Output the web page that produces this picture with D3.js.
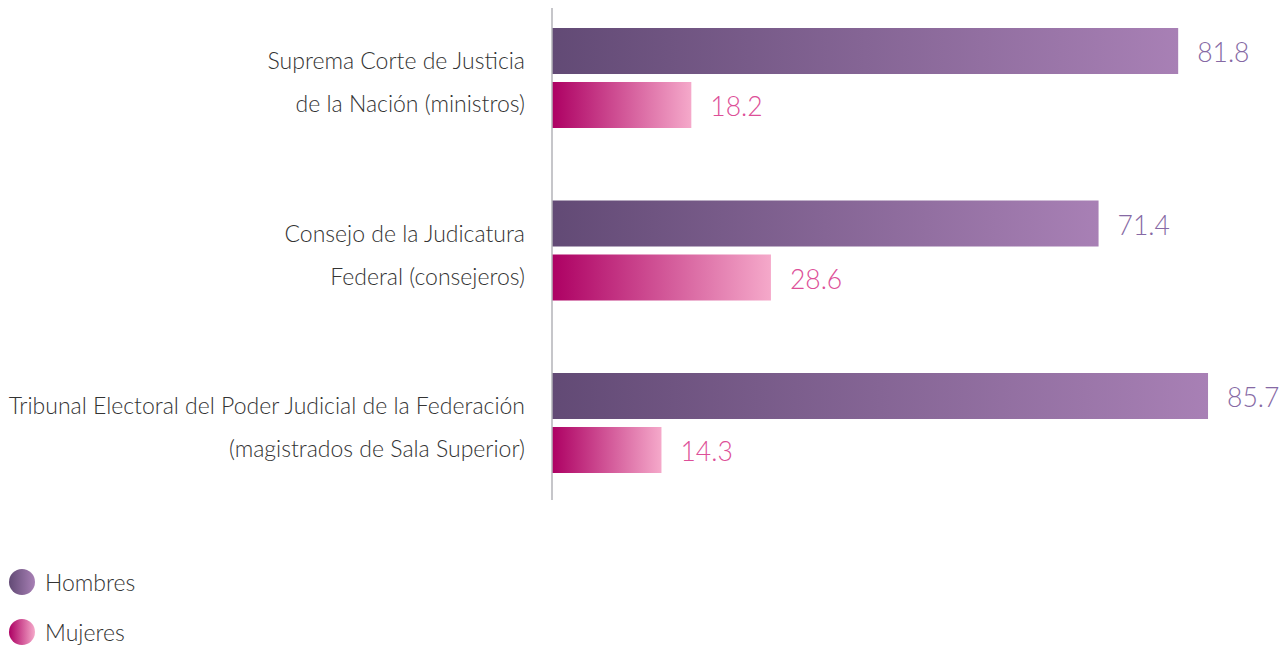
<!DOCTYPE html>
<html><head><meta charset="utf-8">
<script src="https://cdn.jsdelivr.net/npm/d3@7"></script>
<style>body{margin:0;background:#fff}svg{display:block}</style>
</head><body><svg id="c" width="1287" height="649"></svg>
<script>
const categories = ["Suprema Corte de Justicia|de la Nación (ministros)", "Consejo de la Judicatura|Federal (consejeros)", "Tribunal Electoral del Poder Judicial de la Federación|(magistrados de Sala Superior)"];
const series = ["Hombres", "Mujeres"];
const hombres = [81.8, 71.4, 85.7];
const mujeres = [18.2, 28.6, 14.3];

const svg = d3.select("#c");
const font = "Lato, 'Open Sans', sans-serif";
const x = d3.scaleLinear().domain([0, 100]).range([552, 1317.5]);
const y = d3.scaleBand().domain(categories).range([28, 473]).paddingInner(0.4203).paddingOuter(0);
const yi = d3.scaleBand().domain(series).range([0, y.bandwidth()]).paddingInner(0.148).paddingOuter(0);

const defs = svg.append("defs");
function grad(id, c0, c1){
  const g = defs.append("linearGradient").attr("id", id).attr("x1","0%").attr("x2","100%").attr("y1","0%").attr("y2","0%");
  g.append("stop").attr("offset","0%").attr("stop-color",c0);
  g.append("stop").attr("offset","100%").attr("stop-color",c1);
}
grad("gH", "#624a75", "#a880b5");
grad("gM", "#ad0063", "#f5a9ca");
const fills = {Hombres:"url(#gH)", Mujeres:"url(#gM)"};
const labelColors = {Hombres:"#8669a4", Mujeres:"#dd4f98"};

const data = [];
categories.forEach((c,i)=>{
  data.push({cat:c, s:"Hombres", v:hombres[i]});
  data.push({cat:c, s:"Mujeres", v:mujeres[i]});
});

svg.selectAll("rect.bar").data(data).join("rect").attr("class","bar")
  .attr("x", x(0)).attr("y", d=>y(d.cat)+yi(d.s))
  .attr("width", d=>x(d.v)-x(0)).attr("height", yi.bandwidth())
  .attr("fill", d=>fills[d.s]);

svg.selectAll("text.val").data(data).join("text").attr("class","val")
  .attr("x", d=>x(d.v)+19).attr("y", d=>y(d.cat)+yi(d.s)+yi.bandwidth()/2+2)
  .attr("dy","0.35em").attr("font-family",font).attr("font-weight",300)
  .attr("font-size",26.5).attr("fill", d=>labelColors[d.s]).text(d=>d.v.toFixed(1));

// axis line
svg.append("line").attr("x1",x(0)).attr("x2",x(0)).attr("y1",8).attr("y2",500)
  .attr("stroke","#b3b3b8").attr("stroke-width",1.5);

// category labels
categories.forEach(c=>{
  const lines = c.split("|");
  const cy = y(c)+y.bandwidth()/2;
  const t = svg.append("text").attr("text-anchor","end").attr("font-family",font)
    .attr("font-weight",300).attr("font-size",23).attr("fill","#333");
  t.append("tspan").attr("x",525).attr("y",cy-9).text(lines[0]);
  t.append("tspan").attr("x",525).attr("y",cy+34).text(lines[1]);
});

// legend
const legend = svg.append("g");
series.forEach((s,i)=>{
  const ly = 582 + i*50;
  legend.append("circle").attr("cx",22).attr("cy",ly).attr("r",13).attr("fill",fills[s]);
  legend.append("text").attr("x",45).attr("y",ly+1).attr("dy","0.35em").attr("font-family",font)
    .attr("font-weight",300).attr("font-size",23).attr("fill","#333").text(s);
});
</script></body></html>
